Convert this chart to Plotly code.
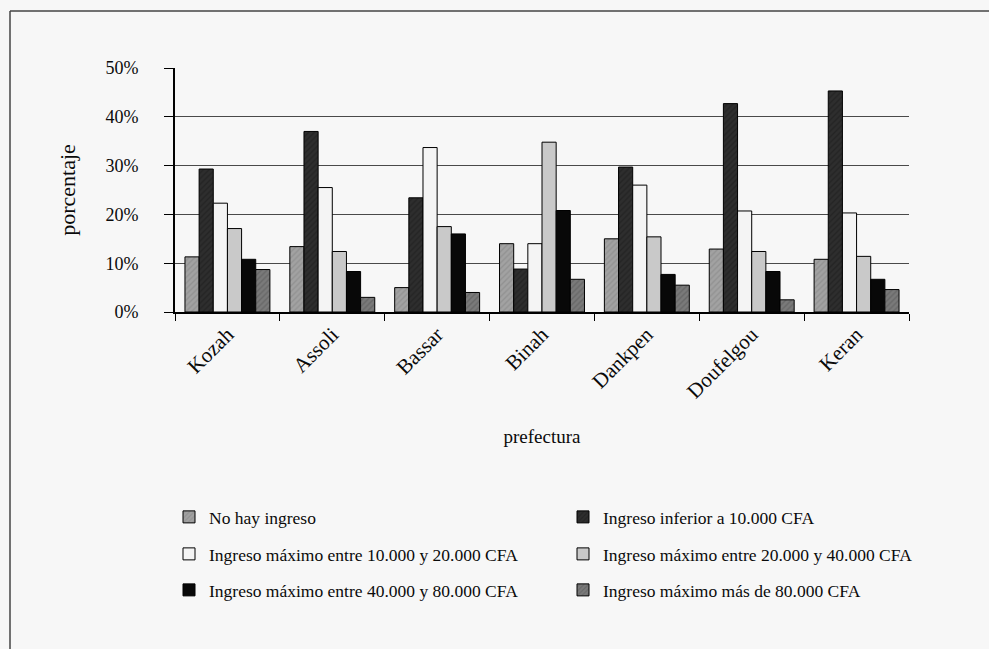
import plotly.graph_objects as go

categories = ["Kozah", "Assoli", "Bassar", "Binah", "Dankpen", "Doufelgou", "Keran"]
series_names = [
    "No hay ingreso",
    "Ingreso inferior a 10.000 CFA",
    "Ingreso máximo entre 10.000 y 20.000 CFA",
    "Ingreso máximo entre 20.000 y 40.000 CFA",
    "Ingreso máximo entre 40.000 y 80.000 CFA",
    "Ingreso máximo más de 80.000 CFA",
]
no_hay = [11.3, 13.4, 5.0, 14.0, 15.0, 12.9, 10.8]
inferior_10 = [29.3, 37.0, 23.4, 8.8, 29.7, 42.7, 45.3]
entre_10_20 = [22.3, 25.5, 33.7, 14.0, 26.0, 20.7, 20.3]
entre_20_40 = [17.1, 12.4, 17.5, 34.8, 15.4, 12.4, 11.4]
entre_40_80 = [10.8, 8.3, 16.0, 20.8, 7.7, 8.3, 6.7]
mas_80 = [8.7, 3.0, 4.0, 6.7, 5.5, 2.5, 4.6]
values = [no_hay, inferior_10, entre_10_20, entre_20_40, entre_40_80, mas_80]

y_ticks = [0, 10, 20, 30, 40, 50]
y_tick_labels = ["0%", "10%", "20%", "30%", "40%", "50%"]

fills = ["#a2a2a2", "#2e2e2e", "#f4f4f4", "#c9c9c9", "#080808", "#7a7a7a"]
pat_shape = ["/", "/", "", "", "", "/"]
pat_fg = ["#828282", "#1a1a1a", "#f4f4f4", "#c9c9c9", "#080808", "#555555"]
legend_ids = ["legend", "legend2", "legend3", "legend4", "legend5", "legend6"]

FONT = "Liberation Serif"
fig = go.Figure()
for name, vals, fc, ps, pf, lg in zip(series_names, values, fills, pat_shape, pat_fg, legend_ids):
    fig.add_trace(go.Bar(
        x=categories, y=vals, name=name, legend=lg,
        marker=dict(color=fc, line=dict(color="#000000", width=1),
                    pattern=dict(shape=ps, fgcolor=pf, size=4, solidity=0.35)),
    ))

W, H = 989, 649
ml, mr, mt, mb = 175, 80, 68, 337
pw, ph = W - ml - mr, H - mt - mb

def px2x(px):
    return (px - ml) / pw

def py2y(py):
    return (H - mb - py) / ph

def leg(xpx, ypx):
    return dict(orientation="v", xanchor="left", yanchor="middle",
                bgcolor="rgba(0,0,0,0)", font=dict(family=FONT, size=17.5, color="#0a0a0a"),
                x=px2x(xpx), y=py2y(ypx))

col_x = [169, 563]
row_y = [517, 554, 590]

fig.update_layout(
    width=W, height=H,
    margin=dict(l=ml, r=mr, t=mt, b=mb),
    paper_bgcolor="#f7f7f7", plot_bgcolor="#f7f7f7",
    font=dict(family=FONT, size=17, color="#0a0a0a"),
    barmode="group", bargap=0.19, bargroupgap=0,
    showlegend=True,
    legend=leg(col_x[0], row_y[0]),
    legend2=leg(col_x[1], row_y[0]),
    legend3=leg(col_x[0], row_y[1]),
    legend4=leg(col_x[1], row_y[1]),
    legend5=leg(col_x[0], row_y[2]),
    legend6=leg(col_x[1], row_y[2]),
    xaxis=dict(
        showline=True, linecolor="#000", linewidth=2,
        ticks="outside", tickson="boundaries", ticklen=7, tickcolor="#000", tickwidth=1,
        tickangle=-45, tickfont=dict(family=FONT, size=21),
        title=dict(text="prefectura", font=dict(family=FONT, size=19), standoff=28),
        showgrid=False,
    ),
    yaxis=dict(
        range=[0, 50], tickvals=y_ticks, ticktext=y_tick_labels,
        showline=True, linecolor="#000", linewidth=2,
        ticks="outside", ticklen=9, tickcolor="#000", tickwidth=1,
        ticklabelstandoff=22,
        tickfont=dict(family=FONT, size=18),
        showgrid=True, gridcolor="#4a4a4a", gridwidth=1,
        zeroline=False,
        title=dict(text="porcentaje", font=dict(family=FONT, size=22), standoff=24),
    ),
    shapes=[
        dict(type="line", xref="paper", yref="paper",
             x0=px2x(10), x1=px2x(995), y0=py2y(11), y1=py2y(11),
             line=dict(color="#444", width=1.5)),
        dict(type="line", xref="paper", yref="paper",
             x0=px2x(10), x1=px2x(10), y0=py2y(11), y1=py2y(655),
             line=dict(color="#444", width=1.5)),
    ],
)

fig.write_html("out.html")
